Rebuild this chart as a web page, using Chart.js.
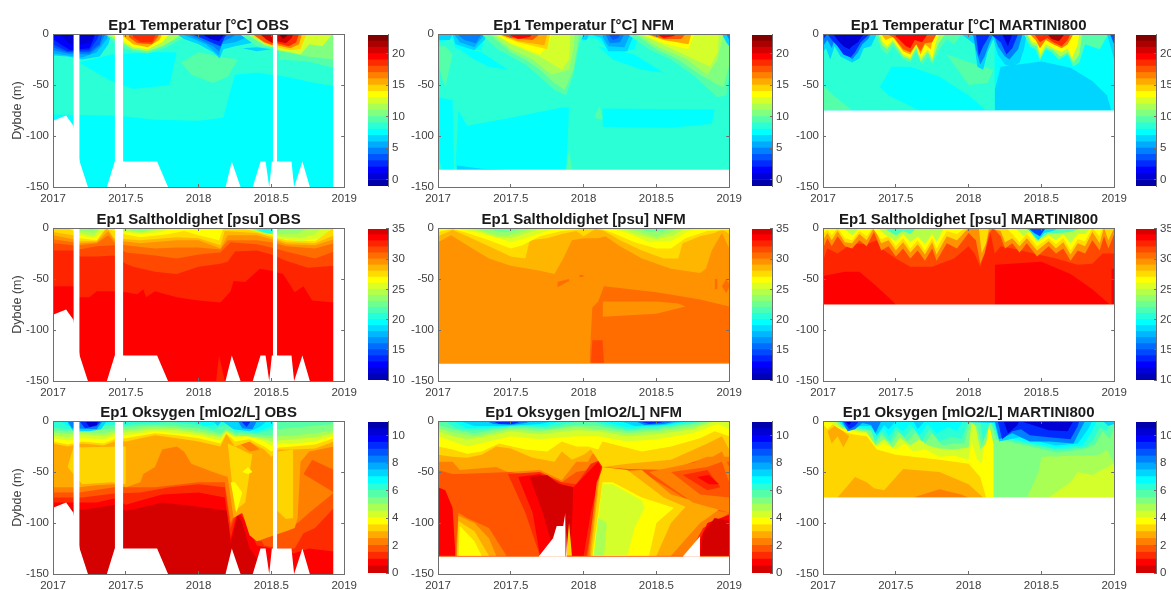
<!DOCTYPE html>
<html>
<head>
<meta charset="utf-8">
<title>Ep1 contour panels</title>
<script src="https://cdn.jsdelivr.net/npm/chart.js@4"></script>
<style>
body { margin: 0; background: #fff; }
canvas { position: absolute; }
</style>
</head>
<body>
<script>
// Layers are painted in order. [level, edge] fills from the surface (0) down to edge,
// [level, edge, top] fills between edge and top. Edges are flat x,y lists with x in years after 2000.
// level null = white (no data).
const xTicks = [2017, 2017.5, 2018, 2018.5, 2019];
const depthTicks = [0, -50, -100, -150];
const tempBarTicks = [0, 5, 10, 15, 20];
const saltBarTicks = [10, 15, 20, 25, 30, 35];
const oxyBarTicks = [0, 2, 4, 6, 8, 10];

const tempLevels = [-1,0,1,2,3,4,5,6,7,8,9,10,11,12,13,14,15,16,17,18,19,20,21,22];
const saltLevels = [10,11,12,13,14,15,16,17,18,19,20,21,22,23,24,25,26,27,28,29,30,31,32,33,34];
const oxyLevels = [0,0.5,1,1.5,2,2.5,3,3.5,4,4.5,5,5.5,6,6.5,7,7.5,8,8.5,9,9.5,10,10.5];

// shared sampling gaps of the OBS panels
const obsFloor = [null, [17,-150,19,-150], [17,-85,17.09,-80,17.14,-90,17.183,-125,17.24,-150,17.37,-150,17.424,-125,17.715,-125,17.79,-150,18.185,-150,18.228,-125,18.288,-150,18.372,-150,18.425,-125,18.46,-125,18.485,-150,18.503,-125,18.638,-125,18.656,-150,18.713,-125,18.764,-150,19,-150]];
const obsGaps = [[null,[17.14,-150,17.183,-150]],[null,[17.424,-150,17.483,-150]],[null,[18.51,-150,18.54,-150]],[null,[18.924,-150,19,-150]]];
const nfmFloor = [null, [17,-150,19,-150], [17,-133,19,-133]];
const martiniFloor = [null, [17,-150,19,-150], [17,-75,19,-75]];

const tempObs = [
  [7,[17,-150,19,-150]],
  [8,[17,-79,17.4,-80,17.5,-81,17.7,-84,18,-85,18.17,-82,18.21,-60,18.25,-40,18.4,-38,18.6,-42,18.8,-48,19,-53]],
  [7,[17.18,-28,17.3,-38,17.4,-46,17.55,-54,17.8,-50,17.85,-18],[17.18,-28,17.4,-20,17.7,-18,17.85,-18]],
  [9,[17.88,-28,17.95,-40,18.1,-48,18.2,-42,18.27,-25],[17.88,-28,18,-18,18.15,-22,18.27,-25]],
  [9,[18.55,-25,18.75,-27,18.93,-33,19,-33]],
  [10,[18.6,-18,18.75,-22,18.93,-25,19,-25]],
  [6,[17,-21,17.1,-22,17.2,-25,17.32,-22,17.38,-10,17.4,0]],
  [5,[17,-19,17.1,-21,17.2,-23,17.3,-18,17.37,-5,17.38,0]],
  [4,[17,-16,17.1,-19,17.25,-20,17.32,-12,17.36,0]],
  [3,[17,-13,17.1,-18,17.25,-18,17.32,-10,17.34,0]],
  [2,[17,-10,17.1,-17,17.25,-16,17.3,-6,17.32,0]],
  [1,[17,-5,17.05,-10,17.12,-16,17.25,-14,17.28,-5,17.29,0]],
  [0,[17.05,0,17.1,-8,17.14,-11,17.2,-10,17.26,-8,17.28,0]],
  [9,[17.36,0,17.45,-12,17.55,-17,17.65,-19,17.78,-13,17.87,-6,17.95,0]],
  [11,[17.37,0,17.42,-5,17.55,-15,17.65,-17,17.75,-12,17.84,-5,17.88,0]],
  [13,[17.39,0,17.45,-5,17.55,-13,17.65,-15,17.75,-8,17.8,0]],
  [15,[17.48,-2,17.55,-10,17.65,-13,17.73,-6,17.75,0]],
  [17,[17.52,-3,17.58,-9,17.68,-10,17.72,-3,17.73,0]],
  [18,[17.55,-3,17.6,-8,17.68,-8,17.71,0]],
  [6,[17.85,0,17.9,-5,18,-10,18.1,-18,18.145,-24,18.17,-15,18.25,-12,18.32,-10,18.38,-8,18.42,0]],
  [5,[17.88,0,17.95,-4,18.05,-10,18.14,-21,18.16,-10,18.25,-8,18.32,-4,18.35,0]],
  [4,[17.92,0,18,-5,18.1,-12,18.14,-17,18.17,-7,18.22,-4,18.26,0]],
  [2,[17.95,0,18.02,-4,18.1,-9,18.15,-12,18.18,-3,18.2,0]],
  [0,[18.02,0,18.08,-5,18.14,-7,18.18,0]],
  [6,[18.3,-14,18.4,-17,18.5,-15],[18.3,-14,18.4,-13,18.5,-15]],
  [9,[18.28,0,18.4,-12,18.5,-14,18.51,-14]],
  [11,[18.33,0,18.45,-11,18.51,-13]],
  [14,[18.35,0,18.42,-6,18.48,-11,18.51,-12]],
  [17,[18.37,0,18.45,-8,18.51,-11]],
  [20,[18.42,0,18.47,-6,18.51,-9]],
  [12,[18.54,-16,18.63,-18,18.7,-20,18.76,-10,18.85,-12,18.92,0]],
  [14,[18.54,-13,18.63,-16,18.7,-15,18.74,0]],
  [16,[18.54,-11,18.63,-14,18.69,-10,18.71,0]],
  [18,[18.54,-9,18.62,-12,18.67,-8,18.69,0]],
  [20,[18.54,-7,18.6,-9,18.64,-4,18.65,0]],
  [22,[18.55,0,18.58,-5,18.62,0]]
];

const tempNfm = [
  [8,[17,-150,19,-150]],
  [7,[17,-120,17.03,-133,17.11,-133],[17,-62,17.1,-65,17.11,-133]],
  [7,[17.12,-133,17.88,-133,17.9,-72],[17.12,-133,17.14,-75,17.2,-90,17.5,-82,17.85,-72,17.9,-72]],
  [6,[17.13,-133,17.5,-133],[17.13,-129,17.3,-132,17.5,-133]],
  [7,[18.13,-91,18.6,-92,18.88,-88,18.9,-74],[18.13,-73,18.9,-74]],
  [9,[18.07,-82,18.13,-84],[18.07,-82,18.11,-70,18.13,-84]],
  [9,[17.88,-133,17.92,-133],[17.88,-133,17.9,-113,17.92,-133]],
  [9,[17,-30,17.05,-52,17.1,-20],[17,-12,17.05,-12,17.1,-20]],
  [7,[17.12,-12,17.25,-25,17.35,-32,17.48,-35],[17.12,-12,17.3,-18,17.48,-35]],
  [7,[18.1,-12,18.2,-25,18.4,-35,18.55,-38],[18.1,-12,18.35,-20,18.55,-38]],
  [7,[17,-8,17.1,-5,17.12,-14,17.3,-16,17.32,0]],
  [6,[17,-6,17.08,-6,17.1,0,17.12,-10,17.25,-16,17.32,-6,17.34,0]],
  [5,[17.11,0,17.15,-8,17.25,-13,17.3,-4,17.32,0]],
  [4,[17.13,0,17.18,-6,17.26,-9,17.3,0]],
  [7,[17.92,0,17.96,-4,18,-7,18.05,-3,18.1,-6,18.2,-20,18.35,-15,18.38,0]],
  [6,[17.95,0,17.98,-5,18.02,-6,18.04,0,18.12,-4,18.17,-17,18.3,-17,18.33,-6,18.35,0]],
  [5,[18.13,-3,18.17,-12,18.28,-13,18.32,0]],
  [4,[18.15,0,18.18,-9,18.25,-8,18.28,0]],
  [3,[18.17,0,18.2,-6,18.24,-4,18.25,0]],
  [9,[17.3,0,17.4,-14,17.5,-22,17.6,-30,17.7,-42,17.8,-55,17.88,-60,17.93,-40,17.97,-10,18,0]],
  [10,[17.35,0,17.5,-18,17.6,-25,17.7,-35,17.8,-48,17.87,-55,17.93,-35,17.96,-10,17.97,0]],
  [11,[17.37,0,17.5,-15,17.65,-25,17.78,-40,17.9,-35,17.93,-15,17.94,0]],
  [12,[17.39,0,17.5,-10,17.7,-22,17.85,-35,17.9,-25,17.91,0]],
  [13,[17.39,0,17.5,-9,17.7,-20,17.75,-12,17.78,0]],
  [14,[17.4,0,17.55,-8,17.75,-15,17.77,0]],
  [15,[17.42,0,17.55,-7,17.73,-11,17.75,0]],
  [17,[17.42,0,17.5,-4,17.65,-6,17.7,0]],
  [19,[17.47,0,17.55,-5,17.63,-3,17.65,0]],
  [9,[18.3,0,18.45,-15,18.6,-25,18.75,-40,18.92,-62,18.98,-60,19,-40]],
  [10,[18.35,0,18.5,-15,18.65,-25,18.8,-40,18.9,-48,18.96,-52,19,-30]],
  [11,[18.37,0,18.5,-12,18.7,-24,18.85,-40,18.92,-25,18.96,0]],
  [12,[18.39,0,18.55,-11,18.72,-22,18.87,-32,18.92,-18,18.93,0]],
  [13,[18.4,0,18.55,-9,18.72,-15,18.76,0]],
  [15,[18.42,0,18.55,-6,18.72,-10,18.74,0]],
  [17,[18.44,0,18.55,-5,18.67,-5,18.7,0]],
  [19,[18.5,0,18.55,-4,18.62,-2,18.64,0]],
  [6,[18.95,0,18.98,-8,19,-12]],
  [4,[18.98,0,19,-6]]
];

const tempMartini = [
  [7,[17,-150,19,-150]],
  [8,[17,-75,18.18,-75]],
  [7,[17.39,-52,17.45,-60,17.66,-75,18.12,-75],[17.39,-52,17.47,-32,17.6,-32,17.8,-42,18,-60,18.12,-75]],
  [9,[17,-75,17.2,-75],[17,-50,17.07,-60,17.2,-75]],
  [9,[17.85,-20,18,-50,18.13,-48,18.17,-35],[17.85,-20,18.05,-30,18.17,-35]],
  [7,[18.18,-30,19,-30]],
  [6,[18.18,-75,18.98,-75],[18.18,-55,18.22,-32,18.5,-27,18.7,-33,18.85,-46,18.95,-60,18.98,-75]],
  [6,[17,-18,17.02,-14,17.05,-25,17.08,-12,17.12,-22,17.2,-28,17.25,-24,17.28,-14,17.33,-12,17.36,-3,17.37,0]],
  [4,[17,-12,17.03,-6,17.06,-14,17.08,-5,17.11,-12,17.17,-20,17.2,-25,17.24,-18,17.27,-10,17.31,-5,17.33,0]],
  [2,[17,-6,17.03,0,17.06,-6,17.1,-12,17.14,-20,17.19,-23,17.22,-18,17.26,-8,17.32,0]],
  [0,[17.07,0,17.1,-6,17.14,-12,17.18,-15,17.2,-12,17.24,-8,17.28,0]],
  [9,[17.36,0,17.4,-15,17.44,-20,17.48,-12,17.55,-25,17.6,-28,17.64,-18,17.68,-30,17.72,-22,17.75,-30,17.8,-15,17.85,-5,17.9,-10,17.95,0]],
  [11,[17.38,0,17.4,-10,17.44,-15,17.48,-8,17.55,-22,17.6,-25,17.64,-14,17.67,-27,17.72,-18,17.75,-27,17.79,-10,17.84,0]],
  [13,[17.39,0,17.41,-8,17.44,-12,17.48,-6,17.55,-20,17.6,-23,17.64,-12,17.67,-24,17.72,-15,17.75,-24,17.78,-6,17.8,0]],
  [15,[17.4,0,17.43,-6,17.48,-3,17.55,-17,17.6,-20,17.64,-10,17.67,-20,17.7,-10,17.74,-15,17.76,0]],
  [17,[17.44,0,17.49,-4,17.55,-15,17.6,-18,17.64,-10,17.67,-17,17.7,-9,17.75,-8,17.78,0]],
  [19,[17.48,0,17.52,-5,17.57,-12,17.6,-14,17.63,-6,17.68,-8,17.72,0]],
  [6,[17.95,0,18.04,-10,18.06,-32,18.1,-35,18.13,-18,18.17,-5,18.2,-20,18.25,-30,18.3,-32,18.35,-28,18.38,-15,18.4,0]],
  [4,[18.03,0,18.05,-15,18.08,-30,18.11,-22,18.14,-10,18.17,0,18.2,-12,18.25,-22,18.28,-25,18.34,-15,18.37,0]],
  [2,[18.05,0,18.07,-22,18.1,-12,18.13,-5,18.15,0,18.22,-8,18.26,-20,18.3,-14,18.34,0]],
  [0,[18.23,0,18.27,-12,18.3,0]],
  [9,[18.38,0,18.42,-12,18.46,-15,18.49,-26,18.53,-15,18.57,-18,18.62,-25,18.68,-20,18.72,-32,18.76,-28,18.8,-10,18.9,-15,18.94,-5,18.96,0]],
  [11,[18.4,0,18.43,-10,18.47,-12,18.49,-24,18.53,-13,18.58,-16,18.63,-22,18.68,-18,18.72,-28,18.76,-20,18.78,0]],
  [13,[18.4,0,18.44,-8,18.47,-9,18.49,-20,18.53,-10,18.58,-14,18.64,-18,18.68,-14,18.71,-24,18.75,-10,18.76,0]],
  [16,[18.42,0,18.46,-6,18.49,-14,18.53,-6,18.58,-10,18.64,-14,18.68,-10,18.72,0]],
  [18,[18.45,0,18.49,-8,18.54,-4,18.58,-8,18.64,-12,18.68,-6,18.7,0]],
  [21,[18.54,0,18.57,-5,18.62,-7,18.66,0]],
  [6,[18.95,0,18.98,-15,19,-25]],
  [3,[18.97,0,19,-10]]
];

const saltObs = [
  [33,[17,-150,19,-150]],
  [32,[18.12,-150,18.18,-150],[18.12,-150,18.14,-125,18.18,-150]],
  [32,[17,-57,17.14,-57,17.18,-68,17.25,-68,17.3,-62,17.42,-62,17.5,-63,17.58,-65,17.62,-60,17.64,-68,17.7,-62,17.85,-68,18,-71,18.15,-73,18.22,-62,18.24,-52,18.32,-53,18.42,-40,18.5,-42,18.58,-45,18.66,-63,18.72,-57,18.78,-71,18.93,-73,19,-73]],
  [31,[17,-22,17.14,-22,17.18,-28,17.3,-28,17.42,-27,17.5,-35,17.55,-38,17.7,-43,17.85,-45,18,-38,18.15,-35,18.2,-33,18.25,-23,18.4,-22,18.5,-26,18.6,-32,18.75,-39,18.93,-37,19,-37]],
  [30,[17,-15,17.14,-17,17.18,-21,17.3,-18,17.42,-17,17.5,-24,17.7,-27,17.85,-30,18,-26,18.15,-24,18.22,-14,18.4,-16,18.5,-19,18.6,-23,18.8,-30,18.93,-23,19,-23]],
  [29,[17,-11,17.14,-14,17.18,-17,17.3,-15,17.38,-7,17.42,-14,17.5,-17,17.7,-20,17.85,-19,18,-19,18.15,-21,18.2,-12,18.4,-12,18.5,-14,18.6,-18,18.8,-20,18.93,-15,19,-15]],
  [28,[17,-7,17.14,-11,17.18,-15,17.3,-14,17.38,-3,17.42,-12,17.6,-15,17.85,-12,18,-12,18.15,-20,18.2,-7,18.4,-7,18.5,-11,18.6,-16,18.8,-17,18.93,-11,19,-11]],
  [27,[17,-4,17.14,-7,17.18,-13,17.3,-13,17.37,0,17.42,-10,17.6,-12,17.85,-9,18,-10,18.15,-17,18.18,-3,18.4,-5,18.5,-9,18.6,-14,18.8,-15,18.93,-7,19,-7]],
  [26,[17.1,0,17.14,-3,17.18,-10,17.3,-12,17.36,0,17.48,-6,17.6,-9,17.8,-6,17.9,-3,18,-7,18.14,-12,18.17,0,18.3,0,18.38,-3,18.5,-7,18.6,-12,18.8,-13,18.92,0]],
  [25,[17.18,-7,17.28,-10,17.34,-4,17.36,0,17.48,-4,17.6,-6,17.75,-4,17.8,0,18.3,0,18.38,-3,18.5,-6,18.54,-10,18.7,-13,18.83,-10,18.92,0]],
  [24,[17.18,-5,17.28,-8,17.33,0,17.48,-3,17.6,-5,17.72,-2,17.75,0,18.32,0,18.4,-3,18.5,-6,18.54,-8,18.7,-10,18.8,-6,18.85,0]],
  [23,[17.18,-3,17.28,-5,17.32,0,17.5,0,17.55,-3,17.62,-4,17.7,0,18.34,0,18.42,-4,18.5,-6,18.54,-6,18.68,-6,18.75,0]],
  [22,[17.2,0,17.27,-2,17.3,0,17.55,0,17.6,-2,17.65,0,18.36,0,18.43,-4,18.5,-6,18.54,-3,18.6,0]],
  [20,[18.38,0,18.44,-4,18.5,-6,18.51,-2]],
  [19,[18.4,0,18.46,-3,18.51,0]]
];

const saltNfm = [
  [29,[17,-150,19,-150]],
  [30,[18.04,-132,19,-132],[18.04,-132,18.06,-78,18.1,-72,18.14,-57,18.5,-63,18.8,-70,19,-77]],
  [29,[18.13,-87,18.5,-84,18.7,-77],[18.13,-72,18.5,-72,18.65,-74,18.7,-77]],
  [31,[18.05,-132,18.14,-132],[18.05,-132,18.06,-110,18.13,-110,18.14,-132]],
  [30,[17.82,-58,17.9,-52],[17.82,-53,17.9,-50]],
  [30,[17.97,-48,18,-48],[17.97,-46,18,-46]],
  [30,[18.9,-60,18.92,-60],[18.9,-50,18.92,-50]],
  [30,[18.95,-57,18.98,-64,19,-58],[18.95,-57,18.98,-50,19,-55]],
  [28,[17,-14,17.09,-7,17.2,-17,17.35,-30,17.5,-37,17.7,-42,17.8,-45,17.86,-30,17.92,-12,18,-10,18.1,-10,18.15,-8,18.25,-18,18.4,-30,18.6,-40,18.8,-44,18.84,-40,18.88,-22,18.95,-5,19,-20]],
  [27,[17,-8,17.1,-2,17.2,-8,17.35,-18,17.5,-28,17.6,-30,17.63,-12,17.75,-10,17.85,-6,17.95,-3,18,-8,18.08,-1,18.14,-3,18.25,-12,18.4,-22,18.55,-30,18.65,-30,18.68,-15,18.8,-8,18.9,-5,18.95,-1,19,-6]],
  [26,[17,-4,17.1,-1,17.2,-5,17.35,-12,17.5,-20,17.58,-17,17.7,-8,17.85,-3,18,-1,18.1,0,18.2,-5,18.35,-14,18.5,-20,18.6,-20,18.7,-10,18.85,-3,19,-2]],
  [25,[17.1,0,17.25,-4,17.4,-9,17.5,-14,17.6,-10,17.75,-3,17.8,0,18.18,0,18.3,-5,18.45,-14,18.6,-13,18.72,-3,18.78,0]],
  [24,[17.18,0,17.3,-4,17.4,-9,17.5,-10,17.6,-6,17.72,0,18.25,0,18.35,-6,18.5,-11,18.62,-7,18.7,0]],
  [23,[17.25,0,17.35,-5,17.45,-8,17.55,-5,17.65,0,18.3,0,18.4,-5,18.5,-9,18.6,-4,18.65,0]],
  [22,[17.32,0,17.4,-3,17.47,-4,17.55,-2,17.58,0,18.36,0,18.45,-4,18.55,-3,18.6,0]]
];

const saltMartini = [
  [32,[17,-150,19,-150]],
  [33,[17,-75,17.5,-75],[17,-47,17.15,-43,17.25,-43,17.35,-55,17.45,-68,17.5,-75]],
  [33,[18.18,-75,18.97,-75],[18.18,-36,18.5,-33,18.7,-45,18.85,-60,18.97,-75]],
  [33,[18.98,-75,19,-75],[18.98,-40,19,-40]],
  [31,[17,-32,17.03,-20,17.1,-25,17.2,-15,17.3,-16,17.37,-12,17.42,-22,17.5,-30,17.6,-38,17.75,-38,17.9,-30,18,-18,18.04,-25,18.08,-38,18.12,-20,18.15,-5,18.18,-25,18.22,-18,18.3,-20,18.45,-25,18.6,-30,18.75,-36,18.85,-35,18.92,-25,19,-25]],
  [29,[17,-20,17.03,-10,17.06,-18,17.1,-8,17.15,-18,17.2,-20,17.25,-12,17.3,-18,17.35,-4,17.4,-22,17.45,-18,17.5,-28,17.55,-20,17.6,-30,17.65,-22,17.7,-32,17.75,-20,17.78,-32,17.85,-15,17.92,-20,18,-5,18.05,-12,18.08,-35,18.11,-25,18.14,-5,18.17,0,18.22,-8,18.25,-20,18.3,-15,18.35,-24,18.4,-15,18.47,-28,18.55,-18,18.6,-25,18.65,-20,18.7,-32,18.75,-22,18.8,-25,18.85,-12,18.9,-22,18.93,-8,18.96,-20,19,-6]],
  [27,[17,-12,17.03,-5,17.06,-12,17.1,-3,17.15,-14,17.2,-15,17.25,-6,17.3,-12,17.35,0,17.4,-15,17.45,-12,17.5,-22,17.55,-14,17.6,-24,17.65,-16,17.7,-26,17.75,-14,17.78,-26,17.85,-8,17.92,-12,18,0,18.07,0,18.09,-25,18.12,-15,18.14,0,18.22,-3,18.25,-14,18.3,-10,18.35,-18,18.4,-10,18.47,-22,18.55,-13,18.6,-20,18.65,-14,18.7,-26,18.75,-15,18.8,-18,18.85,-4,18.9,-15,18.93,0,18.96,-12,19,0]],
  [26,[17,-6,17.03,-2,17.06,-7,17.1,0,17.15,-10,17.2,-12,17.25,-3,17.3,-8,17.34,0,17.4,-11,17.45,-8,17.5,-18,17.55,-10,17.6,-20,17.65,-12,17.7,-22,17.75,-10,17.78,-20,17.85,-3,17.92,-6,17.98,0,18.26,0,18.3,-6,18.35,-14,18.4,-6,18.47,-18,18.55,-10,18.6,-16,18.65,-10,18.7,-22,18.75,-11,18.8,-13,18.85,0,18.9,-8,18.92,0]],
  [24,[17.14,0,17.2,-7,17.25,0,17.38,0,17.42,-6,17.5,-13,17.55,-6,17.6,-14,17.65,-8,17.7,-16,17.75,-6,17.78,-14,17.83,0,18.32,0,18.38,-8,18.42,-3,18.47,-14,18.55,-7,18.6,-12,18.65,-6,18.7,-15,18.75,-6,18.8,-6,18.84,0]],
  [21,[17.42,0,17.46,-4,17.5,-7,17.55,-3,17.6,-6,17.64,0,18.38,0,18.42,-3,18.47,-12,18.55,-5,18.62,-5,18.7,-4,18.78,0]],
  [18,[18.4,0,18.44,-6,18.48,-12,18.52,-5,18.58,-3,18.62,0]],
  [14,[18.41,0,18.45,-5,18.49,-8,18.52,-2,18.53,0]]
];

const oxyObs = [
  [0,[17,-150,19,-150]],
  [0.5,[17,-84,17.2,-87,17.3,-85,17.42,-82,17.5,-88,17.6,-85,17.75,-80,18,-84,18.2,-88,18.22,-120,18.27,-92,18.3,-100,18.35,-125,18.48,-150,18.93,-150,19,-150]],
  [1,[17,-80,17.18,-80,17.3,-80,17.42,-76,17.5,-82,17.6,-78,17.75,-72,18,-70,18.18,-75,18.22,-115,18.27,-88,18.32,-98,18.4,-122,18.5,-125,18.65,-130,18.76,-125,18.93,-128,19,-128]],
  [1.5,[17,-75,17.2,-75,17.42,-71,17.6,-70,17.8,-65,18,-62,18.18,-65,18.22,-105,18.27,-85,18.34,-95,18.45,-122,18.55,-125,18.66,-125,18.72,-110,18.8,-105,18.93,-85,19,-85]],
  [2,[17,-70,17.18,-70,17.42,-65,17.55,-65,17.7,-65,18,-60,18.18,-60,18.22,-100,18.27,-85,18.35,-100,18.42,-118,18.5,-110,18.62,-105,18.68,-100,18.76,-90,18.93,-70,19,-70]],
  [1.5,[18.72,-52,18.93,-70],[18.72,-52,18.78,-38,18.93,-48]],
  [2.5,[17,-65,17.18,-65,17.3,-63,17.42,-62,17.5,-65,17.6,-60,17.62,-52,17.7,-45,17.75,-28,17.85,-25,17.9,-30,17.95,-42,18.1,-50,18.2,-55,18.24,-95,18.3,-90,18.35,-112,18.4,-118,18.5,-113,18.6,-108,18.66,-105,18.68,-95,18.7,-40,18.76,-30,18.93,-25,19,-25]],
  [3,[17.1,-45,17.2,-62,17.4,-60,17.5,-62],[17.1,-45,17.14,-26,17.5,-25]],
  [3,[18.2,-22,18.25,-88,18.32,-80,18.37,-32],[18.2,-22,18.25,-25,18.35,-32,18.37,-32]],
  [3.5,[18.22,-60,18.26,-90,18.3,-70],[18.22,-60,18.25,-60,18.3,-70]],
  [3.5,[18.3,-50,18.34,-52,18.37,-50],[18.3,-50,18.34,-45,18.37,-50]],
  [2,[18.28,-22,18.35,-30,18.42,-28],[18.28,-22,18.35,-20,18.42,-28]],
  [3,[18.54,-88,18.6,-96,18.65,-95],[18.54,-30,18.65,-28]],
  [3,[17,-22,17.1,-25,17.2,-22,17.35,-24,17.42,-20,17.5,-20,17.7,-14,17.85,-17,18,-20,18.15,-25,18.19,-13,18.25,-25,18.35,-20,18.45,-28,18.5,-35,18.55,-28,18.65,-28,18.8,-27,18.93,-20,19,-20]],
  [3.5,[17,-20,17.1,-23,17.2,-20,17.35,-22,17.42,-18,17.5,-17,17.7,-12,17.85,-14,18,-17,18.15,-22,18.19,-12,18.25,-20,18.35,-18,18.45,-25,18.5,-30,18.55,-26,18.65,-25,18.8,-23,18.93,-17,19,-17]],
  [4,[17,-17,17.1,-19,17.2,-17,17.35,-18,17.42,-15,17.5,-14,17.7,-10,17.85,-12,18,-14,18.15,-19,18.19,-11,18.25,-16,18.35,-15,18.45,-20,18.5,-24,18.55,-22,18.65,-22,18.8,-20,18.93,-14,19,-14]],
  [4.5,[17,-14,17.1,-16,17.2,-13,17.35,-15,17.42,-12,17.5,-11,17.7,-8,17.85,-9,18,-12,18.15,-16,18.19,-10,18.25,-15,18.35,-14,18.45,-18,18.5,-20,18.55,-19,18.65,-18,18.8,-16,18.93,-12,19,-12]],
  [5,[17,-11,17.1,-13,17.2,-11,17.35,-12,17.42,-10,17.5,-9,17.7,-6,17.85,-7,18,-10,18.15,-14,18.19,-9,18.25,-14,18.5,-17,18.55,-15,18.65,-14,18.8,-12,18.93,-9,19,-9]],
  [5.5,[17,-9,17.1,-10,17.2,-8,17.35,-8,17.42,-7,17.5,-6,17.7,-4,17.85,-5,18,-7,18.15,-12,18.19,-8,18.25,-12,18.5,-14,18.54,-8,18.7,-6,18.93,-3,19,-3]],
  [6,[17,-6,17.1,-8,17.2,-6,17.35,-5,17.42,-4,17.5,-4,17.7,-2,17.8,-1,18,-4,18.1,-8,18.14,-6,18.2,-3,18.25,-10,18.4,-12,18.51,-8]],
  [6.5,[17.05,0,17.1,-5,17.2,-4,17.38,-2,17.42,0,17.95,0,18.05,-5,18.12,-3,18.17,0,18.22,-6,18.4,-10,18.51,-5]],
  [7,[17.1,-2,17.14,-10,17.18,-10,17.25,-10,17.33,-8,17.37,0,18.1,0,18.13,-5,18.16,0,18.24,-8,18.35,-10,18.42,-6,18.47,0]],
  [8,[17.1,0,17.13,-7,17.3,-8,17.34,0,18.27,0,18.3,-7,18.37,-8,18.4,0]],
  [9,[17.18,0,17.22,-7,17.3,-5,17.33,0,18.29,0,18.33,-6,18.36,0]],
  [10,[17.22,0,17.25,-6,17.3,-4,17.31,0]]
];

const oxyNfm = [
  [1.5,[17,-150,19,-150]],
  [2,[17,-48,17.1,-52,17.13,-52,17.5,-50,17.85,-60,17.95,-50,18.03,-48,18.12,-40,19,-40]],
  [0.5,[17,-132,17.12,-132],[17,-65,17.05,-68,17.1,-85,17.12,-132]],
  [1,[17.48,-52,17.6,-90,17.7,-132,18.02,-132,18.07,-90,18.13,-45],[17.48,-52,17.7,-50,17.85,-60,17.95,-62,18.05,-42,18.12,-38,18.13,-45]],
  [0.5,[17.55,-55,17.65,-90,17.7,-132,18,-132,18.05,-90,18.12,-45],[17.55,-55,17.7,-52,17.85,-62,17.93,-65,18.03,-50,18.1,-40,18.12,-45]],
  [0,[17.63,-55,17.72,-90,17.78,-120,17.9,-132,17.92,-100,17.93,-65],[17.63,-55,17.75,-53,17.83,-62,17.93,-65]],
  [2,[17.12,-132,17.47,-132],[17.12,-132,17.14,-90,17.2,-95,17.35,-105,17.47,-132]],
  [2.5,[17.13,-132,17.4,-132],[17.13,-132,17.14,-93,17.25,-100,17.35,-115,17.4,-132]],
  [3,[17.13,-132,17.35,-132],[17.13,-132,17.14,-98,17.25,-108,17.35,-132]],
  [3.5,[17.14,-132,17.3,-132],[17.14,-132,17.15,-103,17.25,-118,17.3,-132]],
  [3,[17.88,-132,17.92,-132],[17.88,-132,17.9,-100,17.92,-132]],
  [2,[18.03,-132,18.72,-132,18.8,-110,19,-90],[18.03,-132,18.09,-60,18.13,-47,18.4,-50,18.8,-85,19,-90]],
  [2.5,[18.04,-132,18.6,-132,18.8,-100,19,-80],[18.04,-132,18.1,-60,18.13,-50,18.4,-48,18.6,-72,18.8,-80,19,-80]],
  [3,[18.05,-132,18.5,-132,18.6,-100,18.7,-84],[18.05,-132,18.11,-55,18.13,-45,18.3,-48,18.55,-75,18.7,-84]],
  [3.5,[18.06,-132,18.45,-132,18.5,-100,18.62,-85],[18.06,-132,18.13,-60,18.2,-60,18.4,-75,18.62,-85]],
  [4,[18.07,-132,18.3,-132,18.35,-105,18.42,-85],[18.07,-132,18.13,-62,18.2,-62,18.4,-78,18.42,-85]],
  [4.5,[18.07,-132,18.14,-132,18.16,-100],[18.07,-132,18.1,-95,18.16,-100]],
  [1,[18.72,-132,18.85,-110,19,-95],[18.72,-132,18.82,-105,19,-92]],
  [0.5,[18.75,-132,19,-132],[18.75,-132,18.85,-100,19,-92]],
  [0,[18.8,-132,19,-132],[18.8,-132,18.82,-110,18.9,-95,19,-98]],
  [2.5,[17,-40,17.1,-40,17.15,-48,17.4,-45,17.48,-50,17.7,-48,17.85,-58,17.95,-40,18.03,-40,18.06,-32,18.12,-32,18.13,-45,18.3,-47,18.6,-48,18.85,-35,19,-35]],
  [2,[18.45,-50,18.75,-80,19,-90],[18.45,-50,18.85,-38,18.95,-30,19,-45]],
  [1.5,[18.6,-50,18.8,-72,19,-75],[18.6,-50,18.85,-45,18.95,-40,19,-60]],
  [1,[18.68,-53,18.85,-68,18.94,-65],[18.68,-53,18.85,-48,18.94,-65]],
  [0.5,[18.78,-55,18.86,-62,18.93,-62],[18.78,-55,18.86,-53,18.93,-62]],
  [3,[17,-33,17.1,-35,17.2,-36,17.3,-33,17.4,-25,17.5,-27,17.65,-36,17.8,-40,17.85,-30,17.92,-38,18,-33,18.05,-28,18.13,-45,18.3,-42,18.6,-38,18.85,-22,18.95,-15,19,-28]],
  [3.5,[17,-25,17.1,-28,17.2,-32,17.3,-30,17.42,-22,17.6,-28,17.75,-30,17.85,-20,17.95,-25,18.03,-25,18.1,-28,18.13,-20,18.4,-30,18.6,-25,18.8,-17,18.9,-10,19,-15]],
  [4,[17,-15,17.1,-20,17.2,-25,17.35,-20,17.5,-15,17.7,-18,17.95,-15,18.1,-15,18.3,-20,18.5,-18,18.75,-12,18.92,-3,19,-8]],
  [4.5,[17,-10,17.1,-15,17.2,-18,17.3,-16,17.5,-10,17.7,-13,17.95,-9,18.1,-10,18.3,-15,18.5,-13,18.75,-8,18.9,0,18.98,0]],
  [5,[17,-7,17.1,-11,17.25,-15,17.5,-8,17.7,-10,17.95,-6,18.1,-8,18.3,-12,18.5,-10,18.75,-6,18.88,0]],
  [5.5,[17,-4,17.1,-8,17.25,-12,17.5,-6,17.75,-8,17.95,-4,18.1,-5,18.3,-10,18.5,-8,18.75,-3,18.85,0]],
  [6,[17.05,0,17.12,-7,17.25,-9,17.5,-5,17.75,-6,17.9,-2,18,0,18.05,0,18.15,-4,18.3,-8,18.5,-6,18.75,-2,18.8,0]],
  [6.5,[17.1,0,17.2,-7,17.4,-6,17.75,-4,17.85,0,18.1,0,18.3,-6,18.55,-5,18.75,0]],
  [7,[17.15,0,17.25,-5,17.45,-5,17.7,-3,17.8,0,18.25,0,18.35,-5,18.55,-4,18.7,0]],
  [8,[17.33,0,17.38,-3,17.5,-4,17.6,-2,17.65,0,18.35,0,18.42,-4,18.55,-3,18.65,0]],
  [9,[17.37,0,17.42,-3,17.52,-3,17.58,0,18.37,0,18.45,-3,18.52,-2,18.58,0]],
  [null,[17.69,-133,17.875,-133],[17.69,-133,17.79,-115,17.815,-103,17.86,-103,17.875,-90]],
  [null,[17.875,-133,17.885,-133],[17.875,-90,17.885,-133]],
  [null,[18.68,-133,18.8,-133],[18.68,-133,18.8,-113]]
];

const oxyMartini = [
  [3,[17,-150,18.12,-150]],
  [3.5,[18.12,-150,18.18,-150]],
  [2.5,[17.1,-75,18.1,-75],[17.1,-75,17.22,-55,17.3,-60,17.35,-66,17.42,-68,17.55,-47,17.8,-50,18,-62,18.1,-75]],
  [2,[17.62,-75,18,-75],[17.62,-75,17.8,-67,17.95,-72,18,-75]],
  [3.5,[17,-3,17.03,-8,17.07,-3,17.12,-10,17.2,-13,17.3,-15,17.37,-28,17.5,-33,17.8,-38,18,-42,18.08,-55,18.12,-75,18.17,-75]],
  [2.5,[17.03,-10,17.06,-22,17.1,-15,17.14,-26,17.18,-15],[17.03,-10,17.08,-5,17.14,-10,17.18,-15]],
  [5,[18.17,-75,19,-75],[18.17,-20,19,-20]],
  [4.5,[18.4,-75,19,-75],[18.4,-75,18.48,-50,18.5,-35,18.9,-33,18.95,-28,19,-42]],
  [4,[18.55,-75,19,-75],[18.55,-75,18.7,-60,18.75,-50,18.85,-53,19,-42]],
  [4,[17.03,0,17.1,-6,17.2,-10,17.3,-12,17.37,-25,17.42,-22,17.5,-28,17.56,-22,17.62,-30,17.7,-28,17.8,-35,17.9,-34,18,-38,18.02,-20,18.06,-38,18.09,-42,18.11,-20,18.14,-5,18.17,0]],
  [5,[17.08,0,17.13,-7,17.2,-8,17.3,-11,17.36,-24,17.42,-18,17.48,-26,17.53,-16,17.6,-24,17.66,-18,17.72,-24,17.8,-27,17.9,-28,18,-26,18.02,-2,18.04,0,18.08,-28,18.12,-22,18.14,-3,18.17,-22,18.4,-28,18.6,-35,18.75,-32,18.85,-28,18.93,-22,18.98,-30,19,-22]],
  [5.5,[17.1,0,17.15,-6,17.25,-8,17.33,-10,17.36,-22,17.4,-14,17.47,-22,17.52,-10,17.58,-20,17.64,-10,17.7,-22,17.75,-12,17.82,-24,17.9,-22,17.97,-22,18.01,0,18.06,-6,18.09,-24,18.13,-10,18.15,0,18.19,-18,18.4,-24,18.6,-31,18.78,-28,18.87,-23,18.92,-10,18.97,-18,19,-5]],
  [6,[17.1,0,17.15,-5,17.25,-7,17.33,-9,17.36,-20,17.4,-10,17.46,-20,17.5,-8,17.56,-16,17.62,-6,17.68,-20,17.73,-8,17.8,-20,17.88,-15,17.95,-18,18,0,18.08,0,18.1,-20,18.13,-6,18.15,0,18.2,-16,18.4,-22,18.6,-28,18.8,-26,18.86,-18,18.9,-6,18.95,-10,18.97,0]],
  [6.5,[17.1,0,17.14,-6,17.25,-6,17.33,-7,17.37,-15,17.42,-7,17.45,-15,17.5,-5,17.55,-10,17.6,-3,17.66,-14,17.72,-3,17.78,-12,17.86,-6,17.92,-10,17.96,0,18.17,-2,18.2,-14,18.38,-20,18.6,-26,18.78,-24,18.84,-12,18.88,0]],
  [7,[17.12,0,17.16,-8,17.25,-5,17.33,-5,17.37,-14,17.42,-4,17.45,-8,17.5,0,17.62,0,17.65,-8,17.7,0,18.18,-2,18.21,-20,18.35,-16,18.6,-24,18.75,-22,18.82,-8,18.85,0,18.92,0,18.96,-5,19,-3]],
  [8,[17.13,0,17.17,-10,17.22,-8,17.27,-2,17.33,-4,17.36,-12,17.4,0,18.18,0,18.21,-18,18.3,-12,18.42,-20,18.55,-20,18.72,-22,18.77,-8,18.8,0]],
  [9,[17.14,0,17.18,-8,17.22,-5,17.25,0,18.2,0,18.23,-18,18.3,-10,18.36,-8,18.42,-14,18.55,-16,18.7,-18,18.75,-5,18.76,0]],
  [10,[17.15,0,17.18,-4,17.2,0,18.24,0,18.27,-12,18.33,-5,18.35,0,18.46,-5,18.55,-9,18.68,-10,18.72,0]]
];

// jet colormap, same recipe as MATLAB's jet(m)
function jetMap(m) {
    const n = Math.ceil(m / 4);
    const u = [];
    for (let i = 1; i <= n; i++) u.push(i / n);
    for (let i = 1; i < n; i++) u.push(1);
    for (let i = n; i >= 1; i--) u.push(i / n);
    const start = Math.ceil(n / 2) - (m % 4 === 1 ? 1 : 0);
    const out = [];
    for (let k = 1; k <= m; k++) {
        const g = k - start, r = g - n, b = g + n;
        const pick = i => (i >= 1 && i <= u.length ? u[i - 1] : 0);
        out.push(`rgb(${Math.round(pick(r) * 255)},${Math.round(pick(g) * 255)},${Math.round(pick(b) * 255)})`);
    }
    return out;
}

function pairs(list) {
    const points = [];
    for (let i = 0; i < list.length; i += 2) points.push({ x: 2000 + list[i], y: list[i + 1] });
    return points;
}

function layerDatasets(layers, levels, colors) {
    const datasets = [];
    layers.forEach(([level, edge, top]) => {
        const color = level === null ? '#ffffff' : colors[levels.indexOf(level)];
        const i = datasets.length;
        const base = { borderWidth: 0, pointRadius: 0, tension: 0, backgroundColor: color, borderColor: color };
        datasets.push({ ...base, data: pairs(edge), order: -i, fill: top ? i + 1 : { target: { value: 0 } } });
        if (top) datasets.push({ ...base, data: pairs(top), order: -i - 1, fill: false });
    });
    return datasets;
}

const axisColor = '#6e6e6e';
const textColor = '#404040';
const tickFont = { family: 'Liberation Sans', size: 11.5 };

function fixedTicks(list) {
    return scale => { scale.ticks = list.map(v => ({ value: v })); };
}

function sideAxis(position, min, max, list) {
    const horizontal = position === 'top';
    return {
        type: 'linear', position, min, max,
        afterBuildTicks: fixedTicks(list),
        afterFit: s => { if (horizontal) s.height = 1; else s.width = 1; },
        ticks: { display: false },
        border: { color: axisColor, z: 2 },
        grid: { drawOnChartArea: false, tickLength: -3, tickColor: axisColor, z: 2 }
    };
}

function addCanvas(left, top, width, height) {
    const canvas = document.createElement('canvas');
    canvas.width = width;
    canvas.height = height;
    canvas.style.left = left + 'px';
    canvas.style.top = top + 'px';
    document.body.appendChild(canvas);
    return canvas;
}

function drawPanel(col, row, title, layers, levels, colors) {
    const plotLeft = [53, 438, 823][col];
    const plotTop = [34, 228, 421][row];
    const canvas = addCanvas(plotLeft - 50, plotTop - 30, 291 + 50 + 21, 153 + 30 + 22);
    new Chart(canvas, {
        type: 'line',
        data: { datasets: layerDatasets(layers, levels, colors) },
        options: {
            responsive: false,
            animation: false,
            layout: { autoPadding: false, padding: { right: 15 } },
            plugins: {
                legend: { display: false },
                tooltip: { enabled: false },
                title: {
                    display: true, text: title, fullSize: false, color: '#1a1a1a',
                    font: { family: 'Liberation Sans', size: 15, weight: 'bold', lineHeight: 1 },
                    padding: { top: 14, bottom: 0 }
                }
            },
            scales: {
                x: {
                    type: 'linear', min: 2017, max: 2019,
                    afterBuildTicks: fixedTicks(xTicks),
                    afterFit: s => { s.height = 22; },
                    ticks: { color: textColor, font: tickFont, padding: 8, maxRotation: 0, callback: v => String(v) },
                    border: { color: axisColor, z: 2 },
                    grid: { drawOnChartArea: false, tickLength: -3, tickColor: axisColor, z: 2 }
                },
                y: {
                    type: 'linear', min: -150, max: 0,
                    afterBuildTicks: fixedTicks(depthTicks),
                    afterFit: s => { s.width = 50; },
                    title: { display: col === 0, text: 'Dybde (m)', color: textColor, font: { family: 'Liberation Sans', size: 12.5 }, padding: { top: 7 } },
                    ticks: { color: textColor, font: tickFont, padding: 7, callback: v => String(v) },
                    border: { color: axisColor, z: 2 },
                    grid: { drawOnChartArea: false, tickLength: -3, tickColor: axisColor, z: 2 }
                },
                x2: sideAxis('top', 2017, 2019, xTicks),
                y2: sideAxis('right', -150, 0, depthTicks)
            }
        }
    });
}

function drawColorbar(col, row, levels, colors, step, ticks) {
    const barLeft = [368, 752, 1136][col];
    const plotTop = [34, 228, 421][row];
    const canvas = addCanvas(barLeft, plotTop - 12, 20 + 34, 153 + 24);
    const datasets = levels.map((level, i) => ({
        data: [[level, level + step]],
        backgroundColor: colors[i],
        borderWidth: 0,
        inflateAmount: 0.6,
        barPercentage: 1,
        categoryPercentage: 1
    }));
    new Chart(canvas, {
        type: 'bar',
        data: { labels: [''], datasets },
        options: {
            responsive: false,
            animation: false,
            layout: { autoPadding: false, padding: { top: 12, bottom: 12 } },
            plugins: { legend: { display: false }, tooltip: { enabled: false } },
            scales: {
                x: { stacked: true, display: false },
                y: {
                    type: 'linear', position: 'right',
                    min: levels[0], max: levels[levels.length - 1] + step,
                    afterBuildTicks: fixedTicks(ticks),
                    afterFit: s => { s.width = 34; },
                    ticks: { color: textColor, font: tickFont, padding: 6, callback: v => String(v) },
                    border: { color: axisColor, z: 2 },
                    grid: { drawOnChartArea: false, tickLength: -2, tickColor: axisColor, z: 2 }
                }
            }
        }
    });
}

const tempColors = jetMap(tempLevels.length);
const saltColors = jetMap(saltLevels.length);
const oxyColors = jetMap(oxyLevels.length).reverse();
const obsMask = [obsFloor, ...obsGaps];

drawPanel(0, 0, 'Ep1 Temperatur [°C] OBS', [...tempObs, ...obsMask], tempLevels, tempColors);
drawPanel(1, 0, 'Ep1 Temperatur [°C] NFM', [...tempNfm, nfmFloor], tempLevels, tempColors);
drawPanel(2, 0, 'Ep1 Temperatur [°C] MARTINI800', [...tempMartini, martiniFloor], tempLevels, tempColors);
drawPanel(0, 1, 'Ep1 Saltholdighet [psu] OBS', [...saltObs, ...obsMask], saltLevels, saltColors);
drawPanel(1, 1, 'Ep1 Saltholdighet [psu] NFM', [...saltNfm, nfmFloor], saltLevels, saltColors);
drawPanel(2, 1, 'Ep1 Saltholdighet [psu] MARTINI800', [...saltMartini, martiniFloor], saltLevels, saltColors);
drawPanel(0, 2, 'Ep1 Oksygen [mlO2/L] OBS', [...oxyObs, ...obsMask], oxyLevels, oxyColors);
drawPanel(1, 2, 'Ep1 Oksygen [mlO2/L] NFM', [...oxyNfm, nfmFloor], oxyLevels, oxyColors);
drawPanel(2, 2, 'Ep1 Oksygen [mlO2/L] MARTINI800', [...oxyMartini, martiniFloor], oxyLevels, oxyColors);

[0, 1, 2].forEach(col => {
    drawColorbar(col, 0, tempLevels, tempColors, 1, tempBarTicks);
    drawColorbar(col, 1, saltLevels, saltColors, 1, saltBarTicks);
    drawColorbar(col, 2, oxyLevels, oxyColors, 0.5, oxyBarTicks);
});
</script>
</body>
</html>
